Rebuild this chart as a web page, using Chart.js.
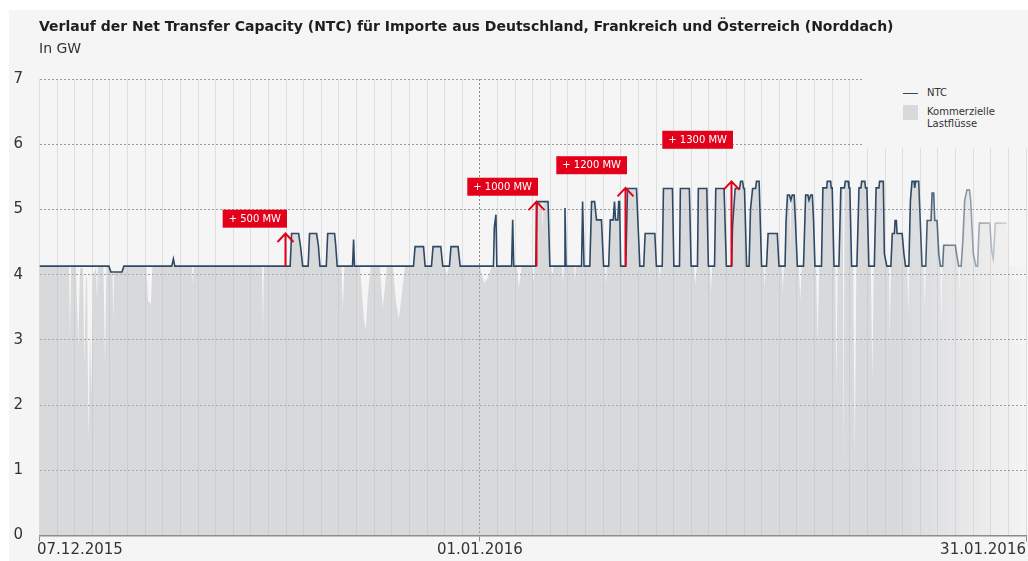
<!DOCTYPE html>
<html lang="de">
<head>
    <meta charset="UTF-8">
    <title>NTC Norddach</title>
    <script src="https://cdn.jsdelivr.net/npm/chart.js"></script>
    <style>
        body {
            margin: 0;
            background-color: #ffffff;
            font-family: "DejaVu Sans", sans-serif;
        }

        .wrap {
            position: relative;
            width: 1028px;
            height: 561px;
            overflow: hidden;
        }

        .panel {
            position: absolute;
            left: 9px;
            top: 10px;
            right: 0;
            bottom: 0;
            background-color: #f5f5f5;
        }

        #ntcChart {
            position: absolute;
            left: 0;
            top: 0;
        }

        .title {
            position: absolute;
            left: 39px;
            top: 18px;
            font-size: 14px;
            line-height: 16px;
            font-weight: bold;
            color: #1e1e1e;
            white-space: nowrap;
        }

        .subtitle {
            position: absolute;
            left: 39px;
            top: 40px;
            font-size: 14px;
            line-height: 16px;
            color: #333333;
        }

        /* legend sits on the plot and hides the grid behind it */
        .legend {
            position: absolute;
            left: 862px;
            top: 72px;
            width: 166px;
            height: 76px;
            background-color: #f5f5f5;
            font-size: 10px;
            line-height: 12px;
            color: #333333;
        }

        .legend .swatch-line {
            position: absolute;
            left: 41px;
            top: 21px;
            width: 15px;
            height: 0;
            border-top: 1.6px solid #2d4965;
        }

        .legend .swatch-box {
            position: absolute;
            left: 41px;
            top: 33px;
            width: 15px;
            height: 15px;
            background-color: #d8d9db;
        }

        .legend .lbl {
            position: absolute;
            left: 65px;
        }
    </style>
</head>

<body>
<div class="wrap">
    <div class="panel"></div>
    <canvas id="ntcChart" width="1028" height="561"></canvas>
    <div class="title">Verlauf der Net Transfer Capacity (NTC) für Importe aus Deutschland, Frankreich und Österreich (Norddach)</div>
    <div class="subtitle">In GW</div>
    <div class="legend">
        <div class="swatch-line"></div>
        <div class="lbl" style="top: 15px">NTC</div>
        <div class="swatch-box"></div>
        <div class="lbl" style="top: 34px">Kommerzielle<br>Lastflüsse</div>
    </div>
</div>

<script>
    // x values are days since 07.12.2015 00:00, y values in GW

    // NTC (net transfer capacity)
    const ntcDays = [
        0, 3.94, 4.05, 4.68, 4.79, 7.51, 7.60, 7.68,
        14.23, 14.31, 14.71, 14.82, 14.94, 15.25, 15.33, 15.73, 15.83, 15.92,
        16.28, 16.36, 16.75, 16.81, 16.90, 17.77, 17.83, 17.88,
        21.23, 21.32, 21.80, 21.89, 22.25, 22.34, 22.78, 22.89, 23.27, 23.36, 23.76, 23.88,
        25.77, 25.82, 25.91, 25.96, 26.80, 26.86, 26.92,
        28.17, 28.24, 28.87, 28.97, 29.79, 29.83, 29.89, 30.77, 30.83, 30.91,
        31.24, 31.34, 31.51, 31.62, 31.90, 32.02,
        32.31, 32.40, 32.57, 32.64, 32.70, 32.83, 32.88, 32.93, 32.99,
        33.28, 33.38, 33.89, 34.08, 34.30, 34.38, 34.93, 35.02,
        35.35, 35.42, 35.93, 36.01, 36.33, 36.38, 36.89, 36.99,
        37.35, 37.40, 37.88, 37.97, 38.32, 38.39, 38.86, 38.99,
        39.29, 39.34, 39.49, 39.74, 39.80, 39.91, 39.97, 40.02, 40.14,
        40.28, 40.36, 40.48, 40.65, 40.70, 40.85, 40.99,
        41.27, 41.36, 41.88, 41.98,
        42.32, 42.38, 42.46, 42.57, 42.65, 42.73, 42.84, 42.91, 43.02,
        43.37, 43.49, 43.62, 43.68, 43.78, 43.87, 43.94, 44.02,
        44.39, 44.47, 44.69, 44.72, 44.91, 44.94, 45.00, 45.10,
        45.38, 45.49, 45.69, 45.74, 45.91, 45.95, 46.00, 46.10,
        46.40, 46.52, 46.63, 46.67, 46.85, 46.89, 46.97, 47.08,
        47.39, 47.49, 47.65, 47.69, 47.90, 47.96, 48.10,
        48.33, 48.41, 48.53, 48.57, 48.64, 48.68, 48.97, 49.07, 49.16,
        49.35, 49.44, 49.53, 49.65, 49.68, 49.74, 49.91, 49.95, 50.07, 50.10,
        50.31, 50.39, 50.61, 50.67, 50.76, 50.82, 50.95, 51.05, 51.14,
        51.27, 51.33, 51.99, 52.07, 52.18,
        52.32, 52.41, 52.52, 52.65, 52.79, 52.86, 53.01, 53.16,
        53.25, 53.35, 53.94, 54.06, 54.14, 54.26, 54.92
    ];
    const ntcValues = [
        4.13, 4.13, 4.04, 4.04, 4.13, 4.13, 4.24, 4.13,
        4.13, 4.63, 4.63, 4.43, 4.13, 4.13, 4.63, 4.63, 4.45, 4.13,
        4.13, 4.63, 4.63, 4.47, 4.13, 4.13, 4.54, 4.13,
        4.13, 4.43, 4.43, 4.13, 4.13, 4.43, 4.43, 4.13, 4.13, 4.43, 4.43, 4.13,
        4.13, 4.73, 4.92, 4.13, 4.13, 4.84, 4.13,
        4.13, 5.12, 5.12, 4.13, 4.13, 5.02, 4.13, 4.13, 5.12, 4.13,
        4.13, 5.12, 5.12, 4.84, 4.84, 4.13,
        4.13, 4.84, 4.84, 5.12, 4.84, 4.84, 5.12, 5.12, 4.13,
        4.13, 5.32, 5.32, 4.13, 4.13, 4.63, 4.63, 4.13,
        4.13, 5.32, 5.32, 4.13, 4.13, 5.32, 5.32, 4.13,
        4.13, 5.32, 5.32, 4.13, 4.13, 5.32, 5.32, 4.13,
        4.13, 4.73, 5.32, 5.32, 5.43, 5.43, 5.32, 5.32, 4.13,
        4.13, 5.00, 5.32, 5.32, 5.43, 5.43, 4.13,
        4.13, 4.63, 4.63, 4.13,
        4.13, 4.83, 5.22, 5.22, 5.14, 5.22, 5.22, 4.83, 4.13,
        4.13, 5.22, 5.22, 5.14, 5.22, 5.22, 4.83, 4.13,
        4.13, 5.33, 5.33, 5.43, 5.43, 5.33, 5.33, 4.13,
        4.13, 5.33, 5.33, 5.43, 5.43, 5.33, 5.33, 4.13,
        4.13, 5.33, 5.33, 5.43, 5.43, 5.33, 5.33, 4.13,
        4.13, 5.33, 5.33, 5.43, 5.43, 4.32, 4.13,
        4.13, 4.63, 4.63, 4.83, 4.83, 4.63, 4.63, 4.32, 4.13,
        4.13, 5.14, 5.43, 5.43, 5.33, 5.43, 5.43, 5.14, 4.32, 4.13,
        4.13, 4.83, 4.83, 5.25, 5.25, 4.83, 4.83, 4.32, 4.13,
        4.13, 4.45, 4.45, 4.30, 4.13,
        4.13, 4.50, 5.14, 5.30, 5.30, 5.14, 4.32, 4.13,
        4.13, 4.79, 4.79, 4.35, 4.25, 4.79, 4.79
    ];

    // Kommerzielle Lastflüsse (commercial flows)
    const flowDays = [
        0, 1.67, 1.73, 1.79, 2.07, 2.19, 2.30, 2.47, 2.55, 2.64, 2.70, 2.78, 2.87, 2.95, 3.04,
        3.21, 3.26, 3.32, 3.63, 3.72, 3.80, 3.94, 4.06, 4.14, 4.19, 4.23, 4.68, 4.80,
        6.07, 6.16, 6.33, 6.41, 8.65, 8.71, 8.77, 12.63, 12.68, 12.74,
        14.23, 14.31, 14.71, 14.82, 14.94, 15.25, 15.33, 15.73, 15.83, 15.92,
        16.28, 16.36, 16.75, 16.81, 16.90, 17.14, 17.22, 17.31,
        18.19, 18.42, 18.53, 18.64, 18.81, 19.32, 19.49, 19.72,
        20.06, 20.23, 20.40, 20.57, 20.74,
        21.23, 21.32, 21.80, 21.89, 22.25, 22.34, 22.78, 22.89, 23.01, 23.13, 23.24,
        23.27, 23.36, 23.76, 23.88, 25.00, 25.23, 25.45, 25.68,
        27.10, 27.21, 27.38, 27.95, 28.04, 28.12,
        28.17, 28.24, 28.50, 28.56, 28.62, 28.87, 28.97, 29.03, 29.11, 29.20,
        29.65, 29.71, 29.77, 30.34, 30.39, 30.45,
        31.24, 31.34, 31.51, 31.62, 31.90, 32.02, 32.09, 32.15, 32.21,
        32.31, 32.40, 32.57, 32.64, 32.70, 32.83, 32.88, 32.93, 32.99,
        33.28, 33.38, 33.89, 34.08, 34.30, 34.38, 34.93, 35.02, 35.16, 35.22, 35.27,
        35.35, 35.42, 35.93, 36.01, 36.33, 36.38, 36.89, 36.99, 37.15, 37.23, 37.32,
        37.35, 37.40, 37.88, 37.97, 38.06, 38.12, 38.18, 38.32, 38.39, 38.86, 38.99,
        39.29, 39.34, 39.49, 39.74, 39.80, 39.91, 39.97, 40.02, 40.14,
        40.28, 40.36, 40.48, 40.65, 40.70, 40.85, 40.99, 41.11, 41.17, 41.22,
        41.27, 41.36, 41.88, 41.98, 42.14, 42.20, 42.25,
        42.32, 42.38, 42.46, 42.57, 42.62, 42.68, 42.73, 42.84, 42.91, 43.02,
        43.10, 43.19, 43.27,
        43.37, 43.49, 43.62, 43.68, 43.78, 43.87, 43.94, 44.02, 44.08, 44.17, 44.26,
        44.39, 44.47, 44.69, 44.72, 44.91, 44.94, 45.00, 45.10, 45.18, 45.23, 45.31,
        45.38, 45.49, 45.60, 45.65, 45.70, 45.74, 45.91, 45.95, 46.00, 46.10, 46.19, 46.28, 46.37,
        46.40, 46.52, 46.63, 46.67, 46.85, 46.89, 46.97, 47.08, 47.19, 47.28, 47.36,
        47.39, 47.49, 47.65, 47.69, 47.90, 47.96, 48.10, 48.21, 48.27, 48.33,
        48.41, 48.53, 48.57, 48.64, 48.68, 48.97, 49.07, 49.16, 49.26, 49.32, 49.38,
        49.44, 49.53, 49.91, 49.95, 50.07, 50.10, 50.19, 50.25, 50.31,
        50.39, 50.61, 50.67, 50.76, 50.82, 50.95, 51.05, 51.14, 51.19, 51.25,
        51.33, 51.99, 52.07, 52.18, 52.22, 52.27,
        52.41, 52.52, 52.65, 52.79, 52.86, 53.01, 53.16,
        53.25, 53.35, 53.94, 54.06, 54.14, 54.26, 54.92, 55.05, 56.00
    ];
    const flowValues = [
        4.13, 4.13, 3.00, 4.13, 4.13, 2.90, 4.10, 4.10, 2.60, 4.00, 3.90, 1.45, 3.20, 2.10, 4.00,
        4.10, 3.60, 4.13, 4.13, 2.60, 4.13, 4.13, 4.04, 4.04, 3.25, 4.04, 4.04, 4.13,
        4.13, 3.60, 3.55, 4.13, 4.13, 3.85, 4.13, 4.13, 3.05, 4.13,
        4.13, 4.63, 4.63, 4.43, 4.13, 4.13, 4.63, 4.63, 4.45, 4.13,
        4.13, 4.63, 4.63, 4.47, 4.13, 4.13, 3.45, 4.13,
        4.13, 3.30, 3.15, 3.70, 4.13, 4.13, 3.48, 4.13,
        4.13, 3.60, 3.33, 3.70, 4.13,
        4.13, 4.43, 4.43, 4.13, 4.13, 4.43, 4.43, 4.13, 4.13, 4.00, 4.13,
        4.13, 4.43, 4.43, 4.13, 4.13, 3.87, 3.95, 4.13,
        4.13, 3.80, 4.13, 4.13, 3.90, 4.13,
        4.13, 5.12, 5.12, 4.70, 5.12, 5.12, 4.13, 4.13, 4.00, 4.13,
        4.13, 3.85, 4.13, 4.13, 3.90, 4.13,
        4.13, 5.12, 5.12, 4.84, 4.84, 4.13, 4.13, 3.85, 4.13,
        4.13, 4.84, 4.84, 5.12, 4.84, 4.84, 5.12, 5.12, 4.13,
        4.13, 5.32, 5.32, 4.13, 4.13, 4.63, 4.63, 4.13, 4.13, 3.90, 4.13,
        4.13, 5.32, 5.32, 4.13, 4.13, 5.32, 5.32, 4.13, 4.13, 3.85, 4.13,
        4.13, 5.32, 5.32, 4.13, 4.13, 3.70, 4.13, 4.13, 5.32, 5.32, 4.13,
        4.13, 4.73, 5.32, 5.32, 5.43, 5.43, 5.32, 5.32, 4.13,
        4.13, 5.00, 5.32, 5.32, 5.43, 5.43, 4.13, 4.13, 3.80, 4.13,
        4.13, 4.63, 4.63, 4.13, 4.13, 3.70, 4.13,
        4.13, 4.83, 5.22, 5.22, 4.40, 5.20, 5.22, 5.22, 4.83, 4.13,
        4.13, 3.60, 4.13,
        4.13, 5.22, 5.22, 5.14, 5.22, 5.22, 4.83, 4.13, 4.13, 2.95, 4.13,
        4.13, 5.33, 5.33, 5.43, 5.43, 5.33, 5.33, 4.13, 4.13, 2.20, 4.13,
        4.13, 5.33, 5.33, 1.00, 5.30, 5.43, 5.43, 5.33, 5.33, 4.13, 4.13, 1.20, 4.13,
        4.13, 5.33, 5.33, 5.43, 5.43, 5.33, 5.33, 4.13, 4.13, 2.40, 4.13,
        4.13, 5.33, 5.33, 5.43, 5.43, 4.32, 4.13, 4.13, 3.00, 4.13,
        4.63, 4.63, 4.83, 4.83, 4.63, 4.63, 4.32, 4.13, 4.13, 3.40, 4.13,
        5.14, 5.43, 5.43, 5.14, 4.32, 4.13, 4.13, 3.50, 4.13,
        4.83, 4.83, 5.25, 5.25, 4.83, 4.83, 4.32, 4.13, 3.20, 4.13,
        4.45, 4.45, 4.30, 4.13, 3.70, 4.13,
        4.50, 5.14, 5.30, 5.30, 5.14, 4.32, 4.13,
        4.13, 4.79, 4.79, 4.35, 4.25, 4.79, 4.79, 4.13, 4.13
    ];

    // capacity increases marked with red arrows
    const stepDays = [13.96, 28.18, 33.26, 39.24];
    const stepFrom = [4.13, 4.13, 4.13, 4.13];
    const stepTo = [4.63, 5.12, 5.33, 5.43];
    const stepLabels = ['+ 500 MW', '+ 1000 MW', '+ 1200 MW', '+ 1300 MW'];
    const stepLabelAt = [4.72, 5.21, 5.54, 5.93];

    // axis labels
    const xTickDays = [0, 25, 56];
    const xTickLabels = ['07.12.2015', '01.01.2016', '31.01.2016'];
    const markDays = [25];
    const yMin = 0;
    const yMax = 7;

    // look
    const NTC_COLOR = '#2d4965';
    const RED = '#e2001a';
    const FLOW_FILL = 'rgba(184,186,190,0.48)';
    const FLOW_FADE = [48.5, 55.8];
    const LINE_FADE = [49.6, 55.2];

    function fadeRight(chart, range, from, to) {
        const {ctx, chartArea, scales} = chart;
        if (!chartArea) return from;
        const g = ctx.createLinearGradient(scales.x.getPixelForValue(range[0]), 0, scales.x.getPixelForValue(range[1]), 0);
        g.addColorStop(0, from);
        g.addColorStop(1, to);
        return g;
    }

    Chart.defaults.font.family = '"DejaVu Sans", sans-serif';

    // red arrows with the boxed labels
    const stepPlugin = {
        id: 'ntcSteps',
        afterDatasetsDraw(chart) {
            const {ctx, scales: {x, y}} = chart;
            ctx.save();
            stepDays.forEach((d, i) => {
                const px = Math.round(x.getPixelForValue(d)) + 0.5;
                const y0 = y.getPixelForValue(stepFrom[i]);
                const y1 = y.getPixelForValue(stepTo[i]);
                ctx.strokeStyle = RED;
                ctx.lineWidth = 2;
                ctx.beginPath();
                ctx.moveTo(px, y0);
                ctx.lineTo(px, y1);
                ctx.moveTo(px - 8, y1 + 8.5);
                ctx.lineTo(px, y1);
                ctx.lineTo(px + 8, y1 + 8.5);
                ctx.stroke();

                ctx.font = '10px "DejaVu Sans"';
                const w = ctx.measureText(stepLabels[i]).width + 12;
                const bottom = y.getPixelForValue(stepLabelAt[i]);
                const right = px + 1.5;
                ctx.fillStyle = RED;
                ctx.fillRect(right - w, bottom - 18, w, 18);
                ctx.fillStyle = '#ffffff';
                ctx.textAlign = 'center';
                ctx.textBaseline = 'middle';
                ctx.fillText(stepLabels[i], right - w / 2, bottom - 8.5);
            });
            ctx.restore();
        }
    };

    // date labels: first one starts at its tick, last one ends at its tick
    const dateLabelPlugin = {
        id: 'dateLabels',
        afterDraw(chart) {
            const {ctx, chartArea, scales: {x}} = chart;
            ctx.save();
            ctx.font = '15px "DejaVu Sans"';
            ctx.fillStyle = '#333333';
            ctx.textBaseline = 'middle';
            xTickDays.forEach((d, i) => {
                let px = x.getPixelForValue(d);
                if (i === 0) {
                    ctx.textAlign = 'left';
                    px -= 2.5;
                } else if (i === xTickDays.length - 1) {
                    ctx.textAlign = 'right';
                } else {
                    ctx.textAlign = 'center';
                }
                ctx.fillText(xTickLabels[i], px, chartArea.bottom + 15);
            });
            ctx.restore();
        }
    };

    const ctx = document.getElementById('ntcChart').getContext('2d');

    new Chart(ctx, {
        type: 'line',
        data: {
            datasets: [
                {
                    label: 'NTC',
                    data: ntcDays.map((d, i) => ({x: d, y: ntcValues[i]})),
                    borderColor: c => fadeRight(c.chart, LINE_FADE, NTC_COLOR, 'rgba(45,73,101,0.12)'),
                    borderWidth: 1.6,
                    pointRadius: 0,
                    fill: false,
                    order: 0
                },
                {
                    label: 'Kommerzielle Lastflüsse',
                    data: flowDays.map((d, i) => ({x: d, y: flowValues[i]})),
                    backgroundColor: c => fadeRight(c.chart, FLOW_FADE, FLOW_FILL, 'rgba(184,186,190,0.02)'),
                    borderWidth: 0,
                    pointRadius: 0,
                    fill: 'origin',
                    order: 1
                }
            ]
        },
        options: {
            responsive: false,
            animation: false,
            devicePixelRatio: 1,
            layout: {
                padding: {top: 79, left: 13.5, right: 2, bottom: 18}
            },
            plugins: {
                legend: {display: false},
                tooltip: {enabled: false}
            },
            scales: {
                x: {
                    type: 'linear',
                    min: 0,
                    max: 56,
                    afterBuildTicks: s => {
                        s.ticks = Array.from({length: 57}, (_, i) => ({value: i}));
                    },
                    ticks: {display: false},
                    grid: {
                        color: c => markDays.includes(c.tick && c.tick.value) ? 'rgba(0,0,0,0)' : '#dedede',
                        lineWidth: 1,
                        drawTicks: true,
                        tickLength: 6,
                        tickColor: c => xTickDays.includes(c.tick && c.tick.value) ? '#8c8c8c' : 'rgba(0,0,0,0)'
                    },
                    border: {color: '#8c8c8c', width: 1.5}
                },
                x2: {
                    type: 'linear',
                    position: 'top',
                    min: 0,
                    max: 56,
                    afterBuildTicks: s => {
                        s.ticks = markDays.map(v => ({value: v}));
                    },
                    ticks: {display: false},
                    grid: {color: '#8a8a8a', lineWidth: 1, drawTicks: false},
                    border: {display: false, dash: [2, 2]}
                },
                y: {
                    min: yMin,
                    max: yMax,
                    afterFit: s => {
                        s.width = 26;
                    },
                    ticks: {
                        stepSize: 1,
                        padding: 16.5,
                        color: '#333333',
                        font: {size: 15}
                    },
                    grid: {color: '#9a9a9a', lineWidth: 1, drawTicks: false},
                    border: {display: false, dash: [2, 2]}
                }
            }
        },
        plugins: [stepPlugin, dateLabelPlugin]
    });
</script>
</body>

</html>
